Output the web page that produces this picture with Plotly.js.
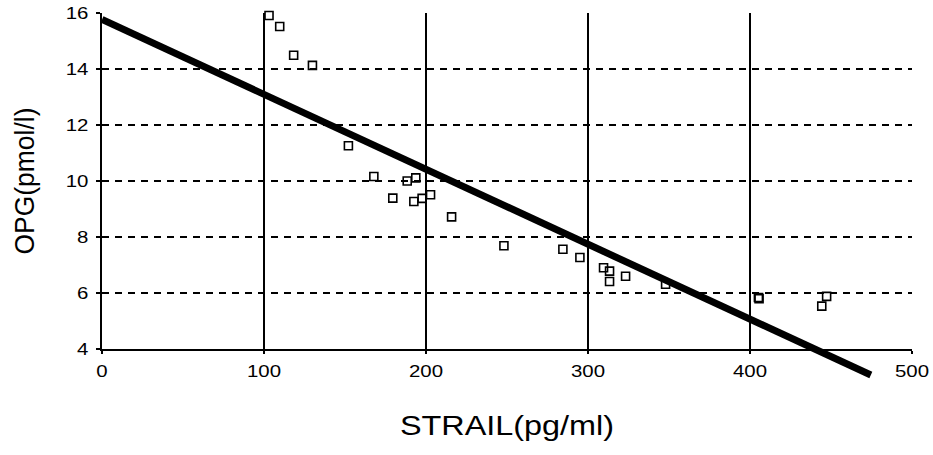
<!DOCTYPE html>
<html>
<head>
<meta charset="utf-8">
<script src="https://cdn.plot.ly/plotly-3.0.1.min.js"></script>
<style>
html, body { margin: 0; padding: 0; background: #fff; }
#chart { width: 933px; height: 455px; }
</style>
</head>
<body>
<div id="chart"></div>
<script>
// ---- data ----
const strailX = [103.1, 109.7, 118.3, 129.9, 152.1, 167.8, 179.5, 188.4, 193.7, 192.5, 197.6, 202.8,
                 215.8, 248.1, 284.5, 295.0, 309.6, 313.3, 313.3, 323.2, 347.9, 405.2, 405.6, 447.3, 444.3];
const opgY    = [15.91, 15.52, 14.49, 14.13, 11.26, 10.16, 9.39, 10.00, 10.11, 9.27, 9.38, 9.51,
                 8.72, 7.69, 7.56, 7.27, 6.90, 6.78, 6.41, 6.60, 6.31, 5.84, 5.80, 5.88, 5.53];
const fitX = [0, 474.6];
const fitY = [15.77, 3.07];
const xTicks = [0, 100, 200, 300, 400, 500];
const yTicks = [4, 6, 8, 10, 12, 14, 16];
const xTitle = 'STRAIL(pg/ml)';
const yTitle = 'OPG(pmol/l)';

// ---- geometry ----
const W = 933, H = 455;
const M = {l: 102, r: 21, t: 13, b: 70};
const plotH = H - M.t - M.b;           // 372
const mainBottomPx = 349;              // y=4 line
const mainLen = mainBottomPx - M.t;    // 336
const yLo = 4, yHi = 16;
const mainDomLo = (H - M.b - mainBottomPx) / plotH;
const pxPerUnit = mainLen / (yHi - yLo);
const y2Lo = yHi - plotH / pxPerUnit;

const font = 'Liberation Sans, Arial, sans-serif';

const traces = [
  {
    type: 'scatter', mode: 'markers', x: strailX, y: opgY,
    xaxis: 'x', yaxis: 'y', cliponaxis: false,
    marker: {symbol: 'square-open', size: 8, color: '#000', line: {width: 1.6, color: '#000'}},
    hoverinfo: 'x+y', showlegend: false
  },
  {
    type: 'scatter', mode: 'lines', x: fitX, y: fitY,
    xaxis: 'x2', yaxis: 'y2',
    line: {color: '#000', width: 7},
    hoverinfo: 'skip', showlegend: false
  }
];

const layout = {
  width: W, height: H,
  margin: M,
  paper_bgcolor: '#fff',
  plot_bgcolor: 'rgba(0,0,0,0)',
  showlegend: false,
  font: {family: font, color: '#000'},
  xaxis: {
    domain: [0, 1], range: [0, 500], anchor: 'y',
    tickvals: xTicks, ticktext: xTicks.map(String),
    showgrid: true, gridcolor: '#000', gridwidth: 1.5,
    showline: true, linecolor: '#000', linewidth: 2.2,
    zeroline: false,
    ticks: 'outside', ticklen: 3, tickwidth: 2, tickcolor: '#000',
    ticklabelstandoff: 2,
    tickfont: {family: font, size: 17, color: '#000'},
    title: {text: xTitle, font: {family: font, size: 28, color: '#000'}, standoff: 36}
  },
  yaxis: {
    domain: [mainDomLo, 1], range: [yLo, yHi], anchor: 'x',
    tickvals: yTicks, ticktext: yTicks.map(String),
    showgrid: true, gridcolor: '#000', gridwidth: 1.5, griddash: '7px,6px',
    showline: true, linecolor: '#000', linewidth: 2.2,
    zeroline: false,
    ticks: 'outside', ticklen: 4, tickwidth: 2, tickcolor: '#000',
    ticklabelstandoff: 4,
    tickfont: {family: font, size: 17, color: '#000'},
    title: {text: yTitle, font: {family: font, size: 28, color: '#000'}, standoff: 27}
  },
  xaxis2: {domain: [0, 1], range: [0, 500], anchor: 'y2', visible: false, showgrid: false, zeroline: false, fixedrange: true},
  yaxis2: {domain: [0, 1], range: [y2Lo, yHi], anchor: 'x2', visible: false, showgrid: false, zeroline: false, fixedrange: true}
};

function stretch(sel, factor, exact) {
  document.querySelectorAll(sel).forEach(function (t) {
    const len = t.getComputedTextLength();
    if (!len) return;
    t.setAttribute('lengthAdjust', 'spacingAndGlyphs');
    t.setAttribute('textLength', exact ? exact : len * factor);
  });
}

Plotly.newPlot('chart', traces, layout, {staticPlot: true, displayModeBar: false}).then(function () {
  stretch('.xtick text', 1.2);
  stretch('.ytick text', 1.2);
  stretch('.g-xtitle text', 1, 214);
  stretch('.g-ytitle text', 1, 147);
});
</script>
</body>
</html>
